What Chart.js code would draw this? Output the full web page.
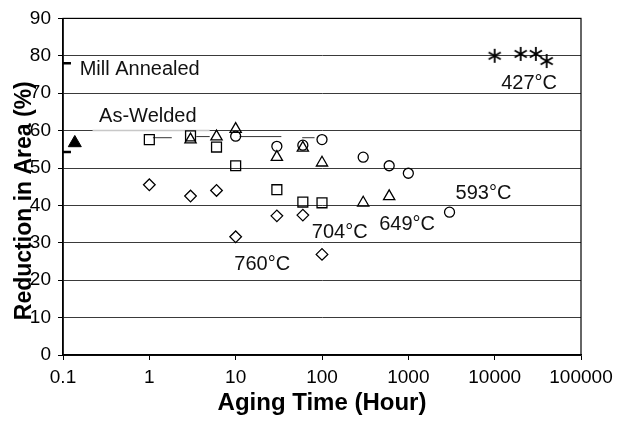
<!DOCTYPE html>
<html lang="en">
  <head>
    <meta charset="UTF-8" />
    <title>Reduction in Area vs Aging Time</title>
    <style>
      html, body { margin: 0; padding: 0; background: #fff; }
      .chart-view { width: 619px; height: 423px; }
    </style>
  </head>
  <body>
    <div class="chart-view"><canvas id="chart"></canvas></div>

    <script src="https://cdn.jsdelivr.net/npm/chart.js@4.4.1/dist/chart.umd.min.js"></script>
    <script>
      //data
      const xTickValues = [0.1, 1, 10, 100, 1000, 10000, 100000];
      const xTickLabels = ['0.1', '1', '10', '100', '1000', '10000', '100000'];

      const hours760 = [1, 3, 6, 10, 30, 60, 100];
      const ra760 = [45.5, 42.5, 44.0, 31.6, 37.2, 37.4, 26.9];
      const hours704 = [1, 3, 6, 10, 30, 60, 100];
      const ra704 = [57.6, 58.6, 55.6, 50.6, 44.2, 40.9, 40.7];
      const hours649 = [3, 6, 10, 30, 60, 100, 300, 600];
      const ra649 = [57.6, 58.4, 60.4, 52.9, 55.4, 51.4, 40.7, 42.4];
      const hours593 = [10, 30, 60, 100, 300, 600, 1000, 3000];
      const ra593 = [58.5, 55.8, 56.1, 57.6, 52.9, 50.6, 48.6, 38.2];
      const hours427 = [10000, 20000, 30000, 40000];
      const ra427 = [80.0, 80.5, 80.5, 78.6];

      // as-welded point and the two marks on the axis
      const asWeldedHours = [0.137];
      const asWeldedRA = [56.7];
      const markHours = [0.104, 0.104];
      const markRA = [78.0, 54.3];

      // short connecting strokes near 58%
      const segStart = [1.1, 3.5, 11.1, 59];
      const segEnd = [1.82, 5.0, 33.8, 82];
      const segRA = [58.1, 58.4, 58.4, 58.1];
      const levelStart = [0.22];
      const levelEnd = [5.0];
      const levelRA = [60];

      const noteText = ['Mill Annealed', 'As-Welded', '427°C', '593°C', '649°C', '704°C', '760°C'];
      const noteHours = [0.156, 0.262, 11900, 3530, 459, 76.2, 9.64];
      const noteRA = [76.3, 63.8, 72.6, 43.1, 35.0, 32.7, 24.1];

      const FONT = '"Liberation Sans", Arial, sans-serif';

      function pts(xs, ys) {
        return xs.map((v, i) => ({ x: v, y: ys[i] }));
      }

      function makeAsterisk() {
        const c = document.createElement('canvas');
        c.width = 16;
        c.height = 16;
        const g = c.getContext('2d');
        g.strokeStyle = '#000';
        g.lineWidth = 1.8;
        [90, 30, 150].forEach((deg) => {
          const r = (deg * Math.PI) / 180;
          const dx = Math.cos(r) * 7;
          const dy = Math.sin(r) * 7;
          g.beginPath();
          g.moveTo(8 - dx, 8 - dy);
          g.lineTo(8 + dx, 8 + dy);
          g.stroke();
        });
        return c;
      }

      function marker(label, data, style, radius) {
        return {
          label: label,
          data: data,
          pointStyle: style,
          pointRadius: radius,
          pointBorderWidth: 1.3,
          borderColor: '#000',
          backgroundColor: 'rgba(0,0,0,0)',
          showLine: false
        };
      }

      const segments = segStart.map((s, i) => ({
        label: 'seg' + i,
        data: [{ x: s, y: segRA[i] }, { x: segEnd[i], y: segRA[i] }],
        showLine: true,
        borderColor: '#333',
        borderWidth: 1,
        pointRadius: 0
      }));
      const levels = levelStart.map((s, i) => ({
        label: 'level' + i,
        data: [{ x: s, y: levelRA[i] }, { x: levelEnd[i], y: levelRA[i] }],
        showLine: true,
        borderColor: '#c8c8c8',
        borderWidth: 1.5,
        pointRadius: 0
      }));

      const data = {
        datasets: [
          marker('760°C', pts(hours760, ra760), 'rectRot', 5.8),
          marker('704°C', pts(hours704, ra704), 'rect', 7),
          marker('649°C', pts(hours649, ra649), 'triangle', 6.5),
          marker('593°C', pts(hours593, ra593), 'circle', 5),
          marker('427°C', pts(hours427, ra427), makeAsterisk(), 7),
          {
            label: 'As-Welded',
            data: pts(asWeldedHours, asWeldedRA),
            pointStyle: 'triangle',
            pointRadius: 7.5,
            borderColor: '#000',
            backgroundColor: '#000',
            showLine: false
          },
          {
            label: 'marks',
            data: pts(markHours, markRA),
            pointStyle: 'line',
            pointRadius: 6.5,
            pointBorderWidth: 2.5,
            borderColor: '#000',
            showLine: false
          },
          ...segments,
          ...levels
        ]
      };

      const notesPlugin = {
        id: 'notes',
        beforeDatasetsDraw(chart) {
          const { ctx, chartArea: a } = chart;
          ctx.save();
          ctx.strokeStyle = '#000';
          ctx.lineWidth = 1.2;
          ctx.strokeRect(a.left, a.top, a.right - a.left, a.bottom - a.top);
          ctx.restore();
        },
        afterDraw(chart) {
          const { ctx, chartArea: a, scales } = chart;
          ctx.save();
          ctx.fillStyle = '#111';
          ctx.font = '20px ' + FONT;
          ctx.textBaseline = 'middle';
          ctx.textAlign = 'left';
          noteText.forEach((t, i) => {
            ctx.fillText(t, scales.x.getPixelForValue(noteHours[i]), scales.y.getPixelForValue(noteRA[i]));
          });
          // y title, overlapping the tick labels like the original
          ctx.fillStyle = '#000';
          ctx.font = 'bold 23px ' + FONT;
          ctx.translate(25, (a.top + a.bottom) / 2 + 14);
          ctx.rotate(-Math.PI / 2);
          ctx.textAlign = 'center';
          ctx.fillText('Reduction in Area (%)', 0, 0);
          ctx.restore();
        }
      };

      //config
      const config = {
        type: 'scatter',
        data: data,
        plugins: [notesPlugin],
        options: {
          responsive: true,
          maintainAspectRatio: false,
          animation: false,
          layout: { padding: { top: 14, right: 38, left: 0, bottom: 0 } },
          plugins: {
            legend: { display: false },
            tooltip: { enabled: false }
          },
          scales: {
            x: {
              type: 'logarithmic',
              min: 0.1,
              max: 100000,
              afterBuildTicks: (scale) => {
                scale.ticks = xTickValues.map((v) => ({ value: v }));
              },
              afterFit: (scale) => {
                scale.height = 68;
              },
              ticks: {
                autoSkip: false,
                maxRotation: 0,
                padding: 6,
                color: '#000',
                font: { family: FONT, size: 19 },
                callback: (v, i) => xTickLabels[i]
              },
              grid: { drawOnChartArea: false, tickLength: 5, tickColor: '#000' },
              border: { color: '#000', width: 1.6 },
              title: {
                display: true,
                text: 'Aging Time (Hour)',
                color: '#000',
                font: { family: FONT, size: 24, weight: 'bold' },
                padding: { top: 0, bottom: 5 }
              }
            },
            y: {
              min: 0,
              max: 90,
              afterFit: (scale) => {
                scale.width = 63;
              },
              ticks: {
                stepSize: 10,
                padding: 7,
                color: '#000',
                font: { family: FONT, size: 19 }
              },
              grid: { color: '#3a3a3a', lineWidth: 1, tickLength: 5, tickColor: '#000' },
              border: { color: '#000', width: 1.6 }
            }
          }
        }
      };

      //init
      const ctx = document.getElementById('chart');
      const chart = new Chart(ctx, config);
    </script>
  </body>
</html>
